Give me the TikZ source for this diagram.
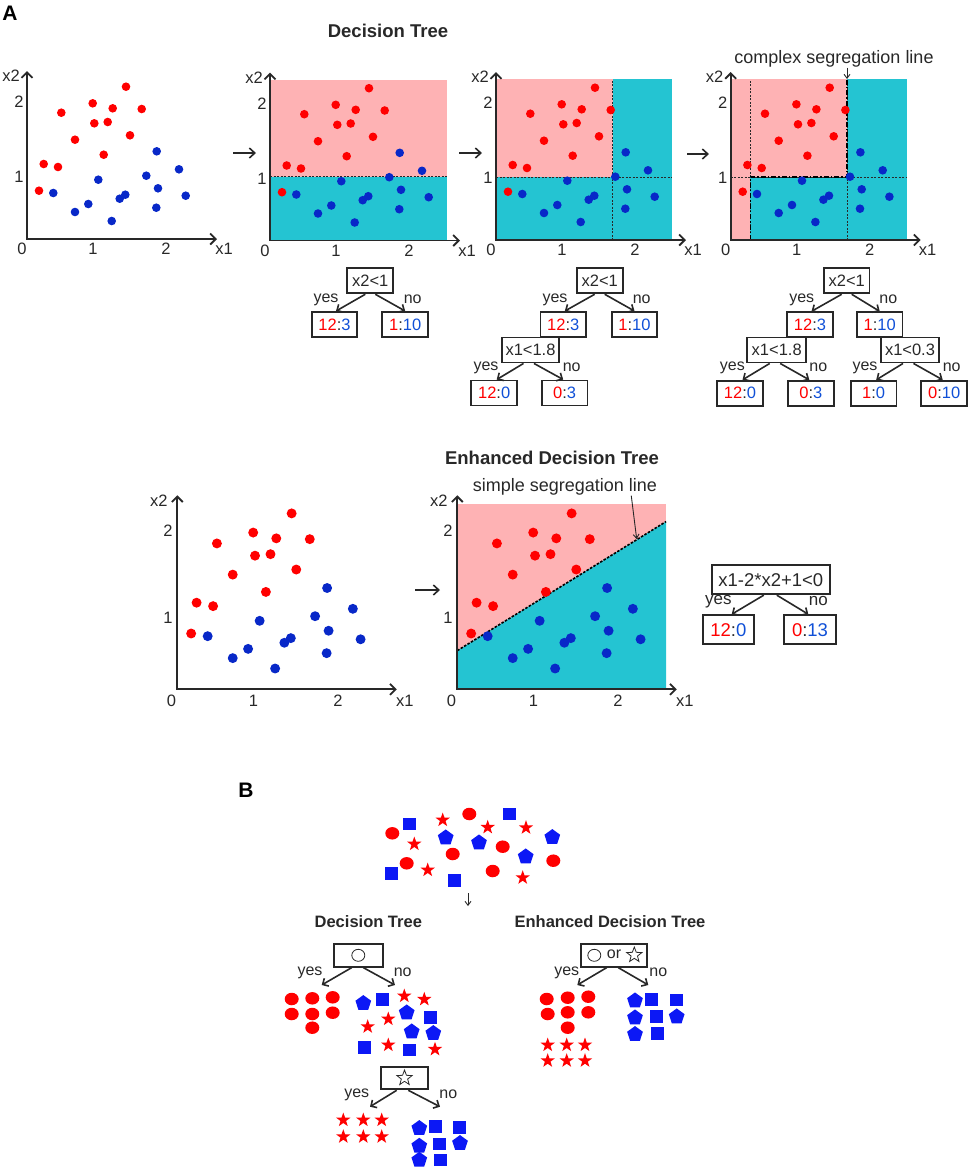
\documentclass[tikz,border=0pt]{standalone}
\usepackage{fontspec}
\setmainfont{Liberation Sans}
\usetikzlibrary{arrows.meta,shapes.geometric}
\definecolor{pinkr}{RGB}{254,178,180}
\definecolor{cyanr}{RGB}{36,196,210}
\definecolor{dred}{RGB}{255,0,0}
\definecolor{dblue}{RGB}{8,40,200}
\definecolor{tblue}{RGB}{16,80,215}
\definecolor{bblue}{RGB}{12,24,245}
\definecolor{ink}{RGB}{40,40,40}
\newcommand\redpts{99/152.3,65.7/135.7,85.7/130.7,114.7/130,34.3/126.3,67.3/115.7,80.7/117,103/103.7,48/99.3,76.7/84.3,16.7/75,31/72,12/48.3}
\newcommand\bluepts{129.7/87.7,152/69.7,119.3/63.3,71.3/59.3,131/50.7,26.3/46,98.3/44.3,92.7/40.3,158.7/43.3,61.3/35,129.3/31.3,48/27,84.7/18}
\newcommand\mkdots{%
  \foreach \a/\b in \redpts {\fill[dred] (\a,\b) circle[radius=4.3];}
  \foreach \a/\b in \bluepts {\fill[dblue] (\a,\b) circle[radius=4.3];}}
\newcommand\mkaxes[1]{%
  \draw[axis] (0,168) -- (0,0) -- (190,0);
  \node[axlab] (#1x0) at (-5,-10) {0};
  \node[axlab] (#1x1) at (66,-10) {1};
  \node[axlab] (#1x2) at (139,-10) {2};
  \node[axlab] (#1xl) at (197,-10) {x1};
  \node[axlab] (#1yl) at (-16,163) {x2};
  \node[axlab] (#1y2) at (-8,137) {2};
  \node[axlab] (#1y1) at (-8,62) {1};}
\newcommand\rbp[2]{\textcolor{dred}{#1}:\textcolor{tblue}{#2}}
\begin{document}
\begin{tikzpicture}[x=1pt,y={(0,-1pt)},
  axis/.style={draw=ink, line width=1.8pt, arrows={Straight Barb[length=5.5pt,width=11pt]-Straight Barb[length=5.5pt,width=11pt]}},
  axlab/.style={font=\fontsize{16.5}{18}\selectfont, text=ink, inner sep=0},
  title/.style={font=\bfseries\fontsize{18.5}{20}\selectfont, text=ink, inner sep=0},
  btitle/.style={font=\bfseries\fontsize{16.5}{18}\selectfont, text=ink, inner sep=0},
  seglab/.style={font=\fontsize{18}{20}\selectfont, text=ink, inner sep=0},
  tbox/.style={draw=ink, line width=1.9pt, minimum height=25, inner sep=1, font=\fontsize{16.5}{18}\selectfont, text=ink},
  ebox/.style={draw=ink, line width=1.9pt, minimum height=29, inner sep=1, font=\fontsize{18.5}{20}\selectfont, text=ink},
  bbox/.style={draw=ink, line width=1.9pt, minimum height=22.7, inner sep=0},
  yn/.style={font=\fontsize{16}{18}\selectfont, text=ink, inner sep=0},
  tarr/.style={draw=ink, line width=1.6pt, arrows={-Straight Barb[length=4.5pt,width=9pt]}},
  parr/.style={draw=ink, line width=1.6pt, arrows={-Straight Barb[length=5.5pt,width=10pt]}},
  thinarr/.style={draw=ink, line width=0.9pt, arrows={-Straight Barb[length=4pt,width=6pt]}},
  dline/.style={draw=ink, line width=0.9pt, dash pattern=on 2pt off 1.5pt},
  segline/.style={draw=black, line width=1.8pt, dash pattern=on 5pt off 2pt on 1.5pt off 2pt},
  sline/.style={draw=black, line width=1.6pt, dash pattern=on 2.5pt off 1.5pt},
  rc/.style={fill=dred, ellipse, minimum width=14, minimum height=12.5, inner sep=0},
  bsq/.style={fill=bblue, rectangle, minimum width=13, minimum height=12.5, inner sep=0},
  bpent/.style={fill=bblue, regular polygon, regular polygon sides=5, minimum size=16.5, inner sep=0},
  rstar/.style={fill=dred, star, star points=5, star point ratio=2.5, minimum size=15, inner sep=0},
  hollowc/.style={draw=ink, ellipse, line width=0.8pt, minimum width=13, minimum height=12, inner sep=0},
  hollows/.style={draw=ink, star, star points=5, star point ratio=2.4, minimum size=16, line width=0.8pt, inner sep=0}]
\useasboundingbox (0,0) rectangle (969,1171);

% ---------------- labels A / B and titles
\node[font=\bfseries\fontsize{21}{22}\selectfont, text=black, inner sep=0] (lA) at (10,13) {A};
\node[font=\bfseries\fontsize{21}{22}\selectfont, text=black, inner sep=0] (lB) at (246,790) {B};
\node[title] (tDT) at (388,31) {Decision Tree};
\node[title] (tEDT) at (552,458) {Enhanced Decision Tree};

% ---------------- plot 1
\begin{scope}[shift={(27,239)}, yscale=-1]
  \mkdots
  \mkaxes{pa}
\end{scope}

% ---------------- plot 2
\begin{scope}[shift={(270,240.5)}, yscale=-1]
  \fill[pinkr] (0,63.7) rectangle (176.5,161);
  \fill[cyanr] (0,0) rectangle (176.5,63.7);
  \draw[dline] (0,63.7) -- (176.5,63.7);
  \mkdots
  \mkaxes{pb}
\end{scope}

% ---------------- plot 3
\begin{scope}[shift={(496,240)}, yscale=-1]
  \fill[pinkr] (0,63) rectangle (116.7,161);
  \fill[cyanr] (0,0) rectangle (176.3,63);
  \fill[cyanr] (116.7,0) rectangle (176.3,161);
  \draw[dline] (0,63) -- (176.3,63);
  \draw[dline] (116.7,0) -- (116.7,161);
  \mkdots
  \mkaxes{pc}
\end{scope}

% ---------------- plot 4
\begin{scope}[shift={(730.7,240)}, yscale=-1]
  \fill[pinkr] (0,0) rectangle (19.7,161);
  \fill[pinkr] (19.7,63) rectangle (116.3,161);
  \fill[cyanr] (19.7,0) rectangle (116.3,63);
  \fill[cyanr] (116.3,0) rectangle (176,161);
  \draw[dline] (0,63) -- (176,63);
  \draw[dline] (19.7,0) -- (19.7,161);
  \draw[dline] (116.3,0) -- (116.3,161);
  \draw[segline] (19.7,0) -- (19.7,63) -- (116.3,63) -- (116.3,161);
  \mkdots
  \mkaxes{pd}
\end{scope}
\node[seglab] (cseg) at (834,59) {complex segregation line};
\coordinate (csegtip) at (847,79);
\draw[thinarr] (cseg.south -| csegtip) -- (csegtip);

% arrows between top plots
\coordinate (ar1a) at (233,153); \coordinate (ar1b) at (256,153);
\coordinate (ar2a) at (459,153); \coordinate (ar2b) at (482,153);
\coordinate (ar3a) at (687,154); \coordinate (ar3b) at (709,154);
\draw[parr] (ar1a) -- (ar1b);
\draw[parr] (ar2a) -- (ar2b);
\draw[parr] (ar3a) -- (ar3b);

% ---------------- tree 2
\node[tbox, minimum width=46] (T2r) at (370.3,280.8) {x2<1};
\node[tbox, minimum width=45.6] (T2a) at (334.5,324.5) {\rbp{12}{3}};
\node[tbox, minimum width=45.6] (T2b) at (405.2,324.5) {\rbp{1}{10}};
\draw[tarr] ([xshift=-5]T2r.south) -- ([xshift=1.5]T2a.north);
\draw[tarr] ([xshift=5]T2r.south) -- (T2b.north);
\node[yn] (T2y) at (326,300) {yes};
\node[yn] (T2n) at (412.7,299.3) {no};

% ---------------- tree 3
\node[tbox, minimum width=46] (T3r) at (599.7,280.8) {x2<1};
\node[tbox, minimum width=45.6] (T3a) at (563.3,324.5) {\rbp{12}{3}};
\node[tbox, minimum width=45.6] (T3b) at (634.5,324.5) {\rbp{1}{10}};
\node[tbox, minimum width=57.7] (T3c) at (530.5,350) {x1<1.8};
\node[tbox, minimum width=45.6] (T3d) at (494.2,393) {\rbp{12}{0}};
\node[tbox, minimum width=45.6] (T3e) at (564.7,393) {\rbp{0}{3}\hspace{11pt}};
\draw[tarr] ([xshift=-5]T3r.south) -- ([xshift=1.5]T3a.north);
\draw[tarr] ([xshift=5]T3r.south) -- (T3b.north);
\draw[tarr] ([xshift=-7]T3c.south) -- ([xshift=2.5]T3d.north);
\draw[tarr] ([xshift=3.5]T3c.south) -- ([xshift=-1.5]T3e.north);
\node[yn] (T3y) at (555,300) {yes};
\node[yn] (T3n) at (641.7,299.3) {no};
\node[yn] (T3y2) at (486,368.3) {yes};
\node[yn] (T3n2) at (571.7,367.3) {no};

% ---------------- tree 4
\node[tbox, minimum width=45.6] (T4r) at (846.7,280.8) {x2<1};
\node[tbox, minimum width=45.6] (T4a) at (810,324.8) {\rbp{12}{3}};
\node[tbox, minimum width=45.6] (T4b) at (879.7,324.8) {\rbp{1}{10}};
\node[tbox, minimum width=58.7] (T4c) at (776.7,350) {x1<1.8};
\node[tbox, minimum width=58.7] (T4d) at (910,350) {x1<0.3};
\node[tbox, minimum width=45.6] (T4e) at (740,393.3) {\rbp{12}{0}};
\node[tbox, minimum width=45.6] (T4f) at (810.8,393.3) {\rbp{0}{3}\hspace{11pt}};
\node[tbox, minimum width=45.6] (T4g) at (873.7,393.3) {\rbp{1}{0}\hspace{11pt}};
\node[tbox, minimum width=45.6] (T4h) at (944.2,393.3) {\rbp{0}{10}};
\draw[tarr] ([xshift=-5]T4r.south) -- ([xshift=1.5]T4a.north);
\draw[tarr] ([xshift=5]T4r.south) -- (T4b.north);
\draw[tarr] ([xshift=-7]T4c.south) -- ([xshift=2.5]T4e.north);
\draw[tarr] ([xshift=3.5]T4c.south) -- ([xshift=-1.5]T4f.north);
\draw[tarr] ([xshift=-7]T4d.south) -- ([xshift=2.5]T4g.north);
\draw[tarr] ([xshift=3.5]T4d.south) -- ([xshift=-1.5]T4h.north);
\node[yn] (T4y) at (801.7,300) {yes};
\node[yn] (T4n) at (888.3,299.3) {no};
\node[yn] (T4y2) at (732.3,368.3) {yes};
\node[yn] (T4n2) at (818.3,367.3) {no};
\node[yn] (T4y3) at (865,368.3) {yes};
\node[yn] (T4n3) at (951.7,367.3) {no};

% ---------------- plot 5 (enhanced, raw data)
\begin{scope}[shift={(177.3,689.3)}, scale=1.155, yscale=-1]
  \mkdots
  \mkaxes{pe}
\end{scope}

% ---------------- plot 6 (enhanced, split)
\begin{scope}[shift={(457.3,689.3)}, scale=1.155, yscale=-1]
  \fill[pinkr] (0,0) rectangle (180.7,160.2);
  \fill[cyanr] (0,0) -- (180.7,0) -- (180.7,145.2) -- (0,33.5) -- cycle;
  \draw[sline] (0,33.5) -- (180.7,145.2);
  \mkdots
  \mkaxes{pf}
\end{scope}
\node[seglab] (sseg) at (565,487) {simple segregation line};
\coordinate (ssegtip) at (636.7,539);
\draw[thinarr] ([xshift=-26]sseg.south east) -- (ssegtip);
\coordinate (ar4a) at (415,590); \coordinate (ar4b) at (440,590);
\draw[parr] (ar4a) -- (ar4b);

% ---------------- enhanced tree
\node[ebox, minimum width=118] (T5r) at (770.8,579.7) {x1-2*x2+1<0};
\node[ebox, minimum width=51] (T5a) at (728.3,629.7) {\rbp{12}{0}};
\node[ebox, minimum width=52] (T5b) at (810,629.7) {\rbp{0}{13}};
\draw[tarr] ([xshift=-7]T5r.south) -- ([xshift=3.4]T5a.north);
\draw[tarr] ([xshift=6]T5r.south) -- ([xshift=-1.7]T5b.north);
\node[yn, font=\fontsize{17}{19}\selectfont] (T5y) at (718.3,601.7) {yes};
\node[yn, font=\fontsize{17}{19}\selectfont] (T5n) at (818.3,600.7) {no};

% ================= PART B
% initial mixed cluster
\foreach \a/\b [count=\i] in {392.3/833.3,469.3/814,452.7/854,502.7/846.7,406.7/863.3,492.7/871,553.3/860.7}
  \node[rc] (m0c\i) at (\a,\b) {};
\foreach \a/\b [count=\i] in {409.3/824,509/814,391/873.3,454.3/880.7}
  \node[bsq] (m0s\i) at (\a,\b) {};
\foreach \a/\b [count=\i] in {445.7/837.7,479/842.7,552.3/837.3,525.7/856.7}
  \node[bpent] (m0p\i) at (\a,\b) {};
\foreach \a/\b [count=\i] in {442.7/820,487.7/827.3,526/827.7,414.3/844,427.7/870,522.7/877.7}
  \node[rstar] (m0t\i) at (\a,\b) {};
\coordinate (bda) at (468,893); \coordinate (bdb) at (468,906);
\draw[thinarr] (bda) -- (bdb);

\node[btitle] (tBD) at (368.3,922) {Decision Tree};
\node[btitle] (tBE) at (610,922) {Enhanced Decision Tree};

% decision tree B, first split
\node[bbox, minimum width=48.7] (BD1) at (358.3,955.3) {};
\node[hollowc] (BD1s) at (BD1.center) {};
\coordinate (BD1L) at (321.7,985); \coordinate (BD1R) at (395,985);
\draw[tarr] ([xshift=-6.6]BD1.south) -- (BD1L);
\draw[tarr] ([xshift=5]BD1.south) -- (BD1R);
\node[yn] (BD1y) at (310,973.3) {yes};
\node[yn] (BD1n) at (402.7,972.7) {no};
\foreach \a/\b [count=\i] in {291.7/999,312.3/998.3,332.7/997.3,291.7/1014,312.3/1014,332.7/1012.7,312.3/1027.7}
  \node[rc] (m1c\i) at (\a,\b) {};
\foreach \a/\b [count=\i] in {363.3/1003.3,406.7/1012.7,411.7/1031.7,433.3/1033.3}
  \node[bpent] (m1p\i) at (\a,\b) {};
\foreach \a/\b [count=\i] in {382.7/999.3,430/1017.7,364.3/1047.7,409.3/1050}
  \node[bsq] (m1s\i) at (\a,\b) {};
\foreach \a/\b [count=\i] in {404.3/996,424.3/999.3,367.7/1026.7,388.3/1019,388.3/1045,435/1049.3}
  \node[rstar] (m1t\i) at (\a,\b) {};

% decision tree B, second split
\node[bbox, minimum width=47.6] (BD2) at (404.5,1078) {};
\node[hollows] (BD2s) at (BD2.center) {};
\coordinate (BD2L) at (370,1106.7); \coordinate (BD2R) at (440,1106.7);
\draw[tarr] ([xshift=-7.8]BD2.south) -- (BD2L);
\draw[tarr] ([xshift=3.8]BD2.south) -- (BD2R);
\node[yn] (BD2y) at (356.7,1095) {yes};
\node[yn] (BD2n) at (448.3,1094) {no};
\foreach \a/\b [count=\i] in {343.3/1120,363.3/1120,381.7/1120,343.3/1136.7,363.3/1136.7,381.7/1136.7}
  \node[rstar] (m2t\i) at (\a,\b) {};
\foreach \a/\b [count=\i] in {419.3/1128.3,419.3/1146,460/1143.3,419.3/1160}
  \node[bpent] (m2p\i) at (\a,\b) {};
\foreach \a/\b [count=\i] in {435/1126.7,459.3/1127.3,439.3/1144,440/1160}
  \node[bsq] (m2s\i) at (\a,\b) {};

% enhanced decision tree B
\node[bbox, minimum width=66] (BE1) at (614.2,955.3) {};
\node[hollowc] (BE1c) at (594.3,955.3) {};
\node[yn] (BE1o) at (614,954) {or};
\node[hollows] (BE1s) at (634.3,955) {};
\coordinate (BE1L) at (577.3,985); \coordinate (BE1R) at (648.3,985);
\draw[tarr] ([xshift=-7.5]BE1.south) -- (BE1L);
\draw[tarr] ([xshift=4]BE1.south) -- (BE1R);
\node[yn] (BE1y) at (566.7,973.3) {yes};
\node[yn] (BE1n) at (658.3,972.7) {no};
\foreach \a/\b [count=\i] in {546.7/999,567.7/997.7,588.3/996.7,547.7/1014,567.7/1012.3,588.3/1012.3,567.7/1027.7}
  \node[rc] (m3c\i) at (\a,\b) {};
\foreach \a/\b [count=\i] in {547.7/1045,566.7/1045,585/1045,547.7/1060.7,566.7/1060.7,585/1060.7}
  \node[rstar] (m3t\i) at (\a,\b) {};
\foreach \a/\b [count=\i] in {635/1000.7,635/1017.7,676.7/1016.7,635/1034.3}
  \node[bpent] (m3p\i) at (\a,\b) {};
\foreach \a/\b [count=\i] in {651.7/999.3,676/1000,656/1016.7,657.7/1033.3}
  \node[bsq] (m3s\i) at (\a,\b) {};
\end{tikzpicture}
\end{document}
